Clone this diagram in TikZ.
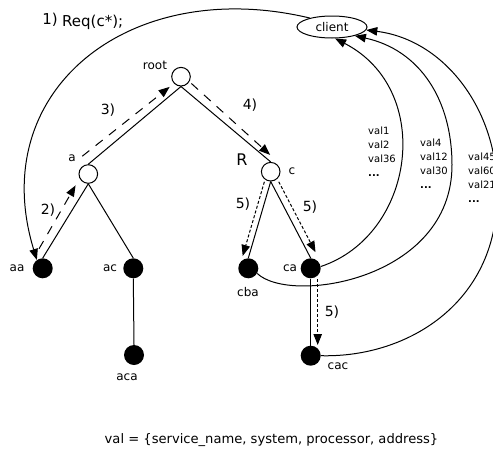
\documentclass[tikz,border=0pt]{standalone}
\usepackage{fontspec}
\setmainfont{DejaVu Sans}
\usetikzlibrary{arrows.meta,calc,shapes.geometric}
\begin{document}
\begin{tikzpicture}[x=1pt,y=-1pt,
  open/.style={circle,draw,fill=white,minimum size=18.6pt,inner sep=0pt,line width=1pt},
  leaf/.style={circle,fill=black,minimum size=20pt,inner sep=0pt},
  lbl/.style={font=\fontsize{12}{14}\selectfont,inner sep=0pt},
  steplbl/.style={font=\fontsize{14}{16}\selectfont,inner sep=0pt},
  treeline/.style={line width=1pt},
  tip/.style={-{Triangle[length=11pt,width=8.5pt]}},
  dashline/.style={treeline,tip,dash pattern=on 9pt off 8pt},
  dotline/.style={treeline,tip,dash pattern=on 3pt off 2pt},
  arcline/.style={treeline,tip},
  vallist/.style={font=\fontsize{10}{14}\selectfont,align=left,anchor=north west,inner sep=0pt}
]
\useasboundingbox (0,0) rectangle (493,453);

% tree nodes
\node[open] (root) at (181,76.7) {};
\node[open] (a) at (88.3,174) {};
\node[open] (c) at (270.7,171.7) {};
\node[leaf] (aa) at (42.7,268.3) {};
\node[leaf] (ac) at (133.3,268.3) {};
\node[leaf] (aca) at (134,355) {};
\node[leaf] (cba) at (248.3,268.3) {};
\node[leaf] (ca) at (310.7,268.3) {};
\node[leaf] (cac) at (310.7,355.7) {};
\node[draw,ellipse,line width=1pt,minimum width=70pt,minimum height=22pt,inner sep=0pt,
      font=\fontsize{12}{14}\selectfont] (client) at (332,27) {client};

% node labels
\node[lbl] (lroot) at (155,65) {root};
\node[lbl] (la) at (72,158) {a};
\node[lbl] (lc) at (292,171) {c};
\node[inner sep=0pt,font=\fontsize{16}{18}\selectfont] (lR) at (242,160) {R};
\node[lbl] (laa) at (17,268) {aa};
\node[lbl] (lac) at (110,268) {ac};
\node[lbl] (laca) at (127,377) {aca};
\node[lbl] (lcba) at (248,292) {cba};
\node[lbl] (lca) at (290,268) {ca};
\node[lbl] (lcac) at (338,366) {cac};

% tree edges
\draw[treeline] (root.south) -- (a.north);
\draw[treeline] (root.south) -- (c.north);
\draw[treeline] (a.south) -- (aa.north);
\draw[treeline] (a.south) -- (ac.north);
\draw[treeline] (ac.south) -- (aca.north);
\draw[treeline] (c.south) -- (cba.north);
\draw[treeline] (c.south) -- (ca.north);
\draw[treeline] (ca.south) -- (cac.north);

% dashed request steps
\draw[dashline] ($(aa.north)!6pt!(a.south)!8pt!90:(a.south)$) -- ($(a.south)!8pt!(aa.north)!10pt!-90:(aa.north)$);
\draw[dashline] ($(a.north)!0.5pt!(root.south)!10pt!90:(root.south)$) -- ($(root.south)!9pt!(a.north)!7pt!-90:(a.north)$);
\draw[dashline] ($(root.south)!6pt!(c.north)!9pt!90:(c.north)$) -- ($(c.north)!5pt!(root.south)!5pt!-90:(root.south)$);

% dotted steps
\draw[dotline] ($(c.south)!2pt!(cba.north)!6pt!-90:(cba.north)$) -- ($(cba.north)!0.5pt!(c.south)!6pt!90:(c.south)$);
\draw[dotline] ($(c.south)!4pt!(ca.north)!7pt!90:(ca.north)$) -- ($(ca.north)!3pt!(c.south)!7pt!-90:(c.south)$);
\draw[dotline] ($(ca.south)!0.5pt!(cac.north)!7pt!90:(cac.north)$) -- ($(cac.north)!0.5pt!(ca.south)!7pt!-90:(ca.south)$);

% step labels
\node[inner sep=0pt,font=\fontsize{15}{17}\selectfont] (s1) at (50,20) {1)};
\node[inner sep=0pt,font=\fontsize{15}{17}\selectfont,anchor=west] (req) at (62,22) {Req(c*);};
\node[steplbl] (s2) at (48,210) {2)};
\node[steplbl] (s3) at (108,110) {3)};
\node[steplbl] (s4) at (250,105) {4)};
\node[steplbl] (s5a) at (243,204) {5)};
\node[steplbl] (s5b) at (310,207) {5)};
\node[steplbl] (s5c) at (332,312) {5)};

% request arc from client to aa
\draw[arcline] (client.158) .. controls (130,-25) and (-15,90) .. (aa.125);

% answer arcs to client
\coordinate (wpB) at (452,165);
\coordinate (wpC) at (497,190);
\draw[arcline] (ca.10) .. controls (415,235) and (435,90) .. (client.-75);
\draw[arcline] (cba.-30) .. controls (290,305) and (452,280) .. (wpB)
               .. controls (452,100) and (420,50) .. (client.-21);
\draw[arcline] (cac.east) .. controls (410,358) and (500,300) .. (wpC)
               .. controls (497,110) and (445,40) .. (client.-5);

% value lists
\node[vallist] (v1) at (368,127) {val1\\val2\\val36\\\textbf{...}};
\node[vallist] (v2) at (420,139) {val4\\val12\\val30\\\textbf{...}};
\node[vallist] (v3) at (468,153) {val45\\val60\\val21\\\textbf{...}};

% legend
\node[inner sep=0pt,font=\fontsize{13.1}{15}\selectfont] (legend) at (271.5,440) {val = \{service\_name, system, processor, address\}};
\end{tikzpicture}
\end{document}
